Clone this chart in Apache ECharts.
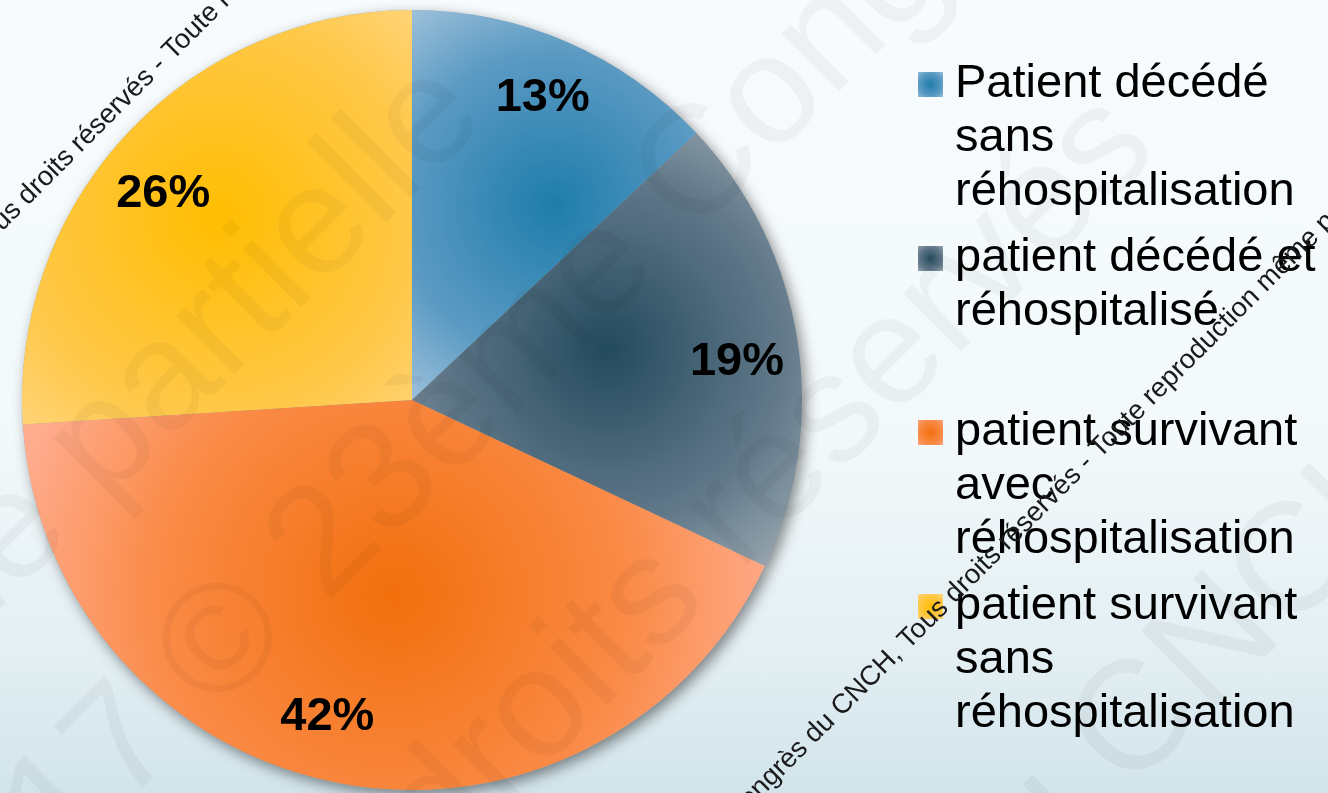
<!DOCTYPE html>
<html><head><meta charset="utf-8">
<script src="https://cdn.jsdelivr.net/npm/echarts@6/dist/echarts.min.js"></script>
<style>
html,body{margin:0;padding:0;width:1328px;height:793px;overflow:hidden;
background:linear-gradient(to bottom,#f7fbfd 0%,#f3f9fb 55%,#e3eff3 82%,#d2e4eb 100%);}
#c{width:1328px;height:793px;}
</style>
</head><body><div id="c"></div>
<script>
// ---- data ----
const categories = [
  'Patient décédé sans réhospitalisation',
  'patient décédé et réhospitalisé',
  'patient survivant avec réhospitalisation',
  'patient survivant sans réhospitalisation'
];
const legendLabels = [
  'Patient décédé\nsans\nréhospitalisation',
  'patient décédé et\nréhospitalisé\n',
  'patient survivant\navec\nréhospitalisation',
  'patient survivant\nsans\nréhospitalisation'
];
const shares = [13, 19, 42, 26];

// ---- styles ----
const innerColors = ['#1e7dab', '#234a5d', '#f26f0c', '#ffbd00'];
const midColors   = ['#5b9ac3', '#62798a', '#fa8a46', '#ffc849'];
const outerColors = ['#a8c7de', '#a2afb7', '#ffac8e', '#ffda90'];
const gradRadius  = [0.9, 0.75, 1.0, 0.85];
const labelNudgeX = [0, 0, -23, -9];   // horizontal nudge of the % labels
const labelNudgeY = [0, 14, -6, 19];   // vertical nudge of the % labels

const FONT = 'Arial, "Liberation Sans", sans-serif';
function radial(x, y, r, i) {
  return {type: 'radial', x: x, y: y, r: r, colorStops: [
    {offset: 0, color: innerColors[i]}, {offset: 0.6, color: midColors[i]}, {offset: 1, color: outerColors[i]}]};
}
const pieData = categories.map((n, i) => ({
  name: n, value: shares[i],
  itemStyle: {color: radial(0.5, 0.5, gradRadius[i], i)}
}));
const shadowData = categories.map((n, i) => ({name: n, value: shares[i]}));
const labelData = categories.map((n, i) => {
  const dx = labelNudgeX[i], dy = labelNudgeY[i];
  const lab = {padding: [0, dx < 0 ? -2 * dx : 0, 0, dx > 0 ? 2 * dx : 0]};
  if (dy !== 0) {
    lab.lineHeight = 2 * Math.abs(dy);
    lab.formatter = p => (dy > 0 ? '\n' : '') + Math.round(p.percent) + '%' + (dy < 0 ? '\n' : '');
  }
  return {name: n, value: shares[i], label: lab};
});

function wm(text, x, y, size, color, align) {
  return {type: 'text', x: x, y: y, rotation: Math.PI / 4, z: 100, silent: true,
    style: {text: text, fontSize: size, fontFamily: FONT, fill: color, align: align, verticalAlign: 'middle'}};
}
const faint = 'rgba(0,0,0,0.038)';
const dark = '#1a1a1a';

const chart = echarts.init(document.getElementById('c'), null, {renderer: 'canvas'});
chart.setOption({
  backgroundColor: 'transparent',
  animation: false,
  legend: {
    orient: 'vertical', left: 918, top: 57, padding: 0, itemGap: 12,
    itemWidth: 32, itemHeight: 162,
    icon: 'path://M0,0M32,162M0,15h25v25h-25z',
    selectedMode: false,
    itemStyle: {borderWidth: 0},
    textStyle: {fontFamily: FONT, fontSize: 47, lineHeight: 54, color: '#000'},
    formatter: name => legendLabels[categories.indexOf(name)],
    data: categories.map((n, i) => ({
      name: n,
      itemStyle: {color: radial(0.39, 0.17, 0.6, i), borderWidth: 0}
    }))
  },
  series: [
    { // soft drop shadow under the disc
      type: 'pie', center: [412, 400], radius: [0, 390], silent: true, z: 1,
      label: {show: false}, labelLine: {show: false}, legendHoverLink: false,
      itemStyle: {color: '#9aa5ab', borderWidth: 0, shadowBlur: 14, shadowOffsetX: 4, shadowOffsetY: 5, shadowColor: 'rgba(0,0,0,0.45)'},
      data: shadowData
    },
    { // slices
      type: 'pie', center: [412, 400], radius: [0, 390], silent: true, z: 2,
      startAngle: 90, clockwise: true,
      label: {show: false}, labelLine: {show: false},
      itemStyle: {borderWidth: 0},
      data: pieData
    },
    { // percentage labels
      type: 'pie', center: [412, 400], radius: [262, 390], silent: true, z: 3,
      startAngle: 90, clockwise: true, legendHoverLink: false,
      itemStyle: {color: 'rgba(0,0,0,0)', borderWidth: 0},
      labelLine: {show: false},
      label: {show: true, position: 'inside', rotate: 0,
        formatter: p => Math.round(p.percent) + '%',
        fontFamily: FONT, fontSize: 47, fontWeight: 'bold', color: '#000', textBorderWidth: 0},
      data: labelData
    }
  ],
  graphic: [
    wm('même partielle', 99, 449, 155, faint, 'center'),
    wm('2017 © 23ème Congrès', 493, 377, 155, faint, 'center'),
    wm('Tous droits réservés', 640, 612, 155, faint, 'center'),
    wm('du CNCH', 1180, 682, 155, faint, 'center'),
    wm('23ème Congrès du CNCH, ', -24, 247, 27.5, dark, 'right'),
    wm('Tous droits réservés - Toute reproduction même partielle interdite', -24, 247, 27.5, dark, 'left'),
    wm('23ème Congrès du CNCH, ', 903, 645, 27.5, dark, 'right'),
    wm('Tous droits réservés - Toute reproduction même partielle interdite', 903, 645, 27.5, dark, 'left')
  ]
});
</script>
</body></html>
